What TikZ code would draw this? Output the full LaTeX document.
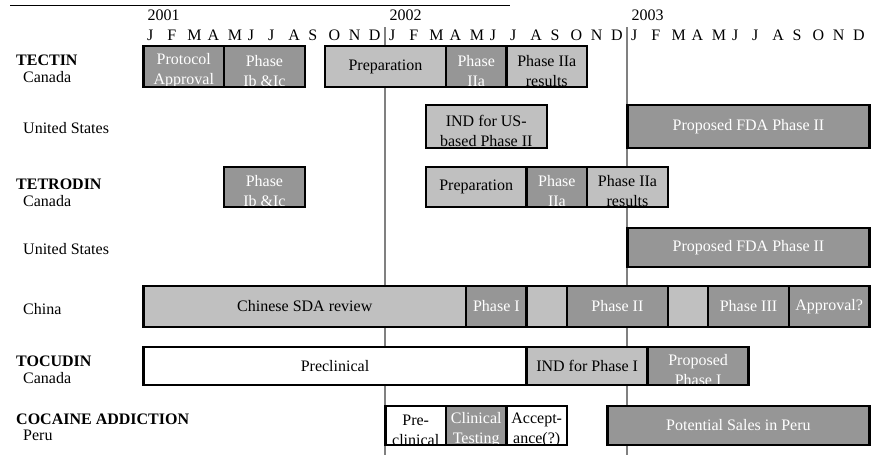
\documentclass[tikz,border=0pt]{standalone}
\usepackage{fontspec}
\setmainfont{Liberation Serif}
\usetikzlibrary{positioning}

\definecolor{darkfill}{RGB}{150,150,150}
\definecolor{lightfill}{RGB}{192,192,192}
\definecolor{divcol}{RGB}{128,128,128}
\newcommand{\mw}{20.17}
\newcommand{\xo}{143.4}
\newcommand{\sz}{\fontsize{16}{18.4}\selectfont}

\begin{document}
\begin{tikzpicture}[x=1pt,y=-1pt,inner sep=0pt,font=\sz,
  phase/.style={draw,line width=2.4pt,outer sep=0pt,anchor=north west,
    minimum width={#1*\mw*1pt},align=center},
  dark/.style={phase=#1,fill=darkfill,text=white},
  light/.style={phase=#1,fill=lightfill},
  blank/.style={phase=#1,fill=white},
  h/.style={minimum height=#1*1pt},
  cut/.style 2 args={path picture={\node[anchor=center,text=#2,align=center,
    font=\fontsize{16}{20}\selectfont] at ([yshift=-4.5pt]path picture bounding box.center) {#1};}},
  drug/.style={anchor=base west,font=\sz\bfseries},
  place/.style={anchor=base west},
  month/.style={anchor=base west},
  divider/.style={draw=divcol,line width=2pt}]
\useasboundingbox (0,0) rectangle (871,455);

\draw[line width=1.3pt] (10,5.5) -- (510,5.5);

% time axis
\node[month] (y2001) at ({\xo+4},20.7) {2001};
\node[month] (y2002) at ({\xo+12*\mw+4},20.7) {2002};
\node[month] (y2003) at ({\xo+24*\mw+4},20.7) {2003};
\foreach \m [count=\i from 0] in {J,F,M,A,M,J,J,A,S,O,N,D,J,F,M,A,M,J,J,A,S,O,N,D,J,F,M,A,M,J,J,A,S,O,N,D}
  \node[month] (m\i) at ({\xo+\i*\mw+3.5},40) {\m};
\draw[divider] ({\xo+12*\mw},27) -- ({\xo+12*\mw},455);
\draw[divider] ({\xo+24*\mw},27) -- ({\xo+24*\mw},455);

% row labels
\node[drug] (tec) at (16,65) {TECTIN};
\node[place] (tecca) at (23,82) {Canada};
\node[place] (tecus) at (23,133) {United States};
\node[drug] (tet) at (16,189) {TETRODIN};
\node[place] (tetca) at (23,206) {Canada};
\node[place] (tetus) at (23,254) {United States};
\node[place] (tetcn) at (23,314) {China};
\node[drug] (toc) at (16,366) {TOCUDIN};
\node[place] (tocca) at (23,383) {Canada};
\node[drug] (coc) at (16,424) {COCAINE ADDICTION};
\node[place] (cocpe) at (23,440) {Peru};

% TECTIN
\node[dark=4,h=41,cut={Protocol\\Approval}{white}] (tec1) at (\xo,46) {};
\node[dark=4,h=41,cut={Phase\\Ib \&Ic}{white},right=0pt of tec1] (tec2) {};
\node[light=6,h=41] (tec3) at ({\xo+9*\mw},46) {Preparation};
\node[dark=3,h=41,cut={Phase\\IIa}{white},right=0pt of tec3] (tec4) {};
\node[light=4,h=41,cut={Phase IIa\\results}{black},right=0pt of tec4] (tec5) {};
\node[light=6,h=43,cut={IND for US-\\based Phase II}{black}] (tecus1) at ({\xo+14*\mw},105) {};
\node[dark=12,h=43] (tecus2) at ({\xo+24*\mw},105) {Proposed FDA Phase II};

% TETRODIN
\node[dark=4,h=40,cut={Phase\\Ib \&Ic}{white}] (tet1) at ({\xo+4*\mw},167) {};
\node[light=5,h=40] (tet2) at ({\xo+14*\mw},167) {Preparation};
\node[dark=3,h=40,cut={Phase\\IIa}{white},right=0pt of tet2] (tet3) {};
\node[light=4,h=40,cut={Phase IIa\\results}{black},right=0pt of tet3] (tet4) {};
\node[dark=12,h=39] (tetus1) at ({\xo+24*\mw},228) {Proposed FDA Phase II};
\node[light=16,h=41] (cn1) at (\xo,286) {Chinese SDA review};
\node[dark=3,h=41,right=0pt of cn1] (cn2) {Phase I};
\node[light=2,h=41,right=0pt of cn2] (cn3) {};
\node[dark=5,h=41,right=0pt of cn3] (cn4) {Phase II};
\node[light=2,h=41,right=0pt of cn4] (cn5) {};
\node[dark=4,h=41,right=0pt of cn5] (cn6) {Phase III};
\node[dark=4,h=41,right=0pt of cn6] (cn7) {Approval?};

% TOCUDIN
\node[blank=19,h=38] (toc1) at (\xo,347) {Preclinical};
\node[light=6,h=38,right=0pt of toc1] (toc2) {IND for Phase I};
\node[dark=5,h=38,cut={Proposed\\Phase I}{white},right=0pt of toc2] (toc3) {};

% COCAINE ADDICTION
\node[blank=3,h=39,cut={Pre-\\clinical}{black}] (coc1) at ({\xo+12*\mw},406) {};
\node[dark=3,h=39,cut={Clinical\\Testing}{white},right=0pt of coc1] (coc2) {};
\node[blank=3,h=39,cut={Accept-\\ance(?)}{black},right=0pt of coc2] (coc3) {};
\node[dark=13,h=39] (coc4) at ({\xo+23*\mw},406) {Potential Sales in Peru};
\end{tikzpicture}
\end{document}
